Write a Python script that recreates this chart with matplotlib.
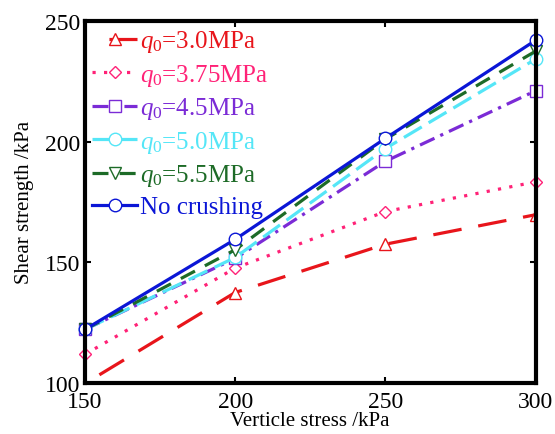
import numpy as np
import matplotlib
matplotlib.use('Agg')
import matplotlib.pyplot as plt

plt.rcParams['font.family'] = 'Liberation Serif'
plt.rcParams['mathtext.fontset'] = 'custom'
plt.rcParams['mathtext.rm'] = 'Liberation Serif'
plt.rcParams['mathtext.it'] = 'Liberation Serif:italic'

# vertical stress levels (kPa)
stress = [150, 200, 250, 300]

# shear strength (kPa) for each crushing strength q0
s_30 = [99.8, 137.5, 157.5, 169.7]
s_375 = [111.9, 147.6, 171.0, 183.3]
s_45 = [122.2, 151.6, 191.8, 221.0]
s_50 = [122.2, 152.0, 197.1, 234.1]
s_55 = [122.2, 155.2, 201.0, 237.4]
s_none = [122.2, 159.5, 201.3, 241.9]

labels = [r'$q_{\mathit{0}}$=3.0MPa', r'$q_{\mathit{0}}$=3.75MPa',
          r'$q_{\mathit{0}}$=4.5MPa', r'$q_{\mathit{0}}$=5.0MPa',
          r'$q_{\mathit{0}}$=5.5MPa', 'No crushing']
colors = ['#e8151b', '#ff2277', '#7b2bd6', '#55e6f7', '#1d6b27', '#0b16d6']
markers = ['^', 'D', 's', 'o', 'v', 'o']
msizes = [9, 6.5, 8.5, 9, 9, 9]
styles = [(9, (9, 5.3)), (0, (1, 2.6)), (0, (5, 2, 1, 2)), (0, (6.5, 2.5)),
          (0, (5, 3.5)), '-']
series = [s_30, s_375, s_45, s_50, s_55, s_none]

fig = plt.figure(figsize=(5.55, 4.35), dpi=100)
ax = fig.add_axes([0.153, 0.117, 0.812, 0.833])

for i in range(len(series)):
    me = [1, 2, 3] if i == 0 else None
    ax.plot(stress, series[i], color=colors[i], linestyle=styles[i], lw=2.3,
            marker=markers[i], ms=msizes[i], mfc='white', mec=colors[i],
            mew=1.0, markevery=me, label=labels[i], clip_on=False if i else True)

ax.set_xlim(150, 300)
ax.set_ylim(100, 250)
ax.set_xticks([150, 200, 250, 300])
ax.set_yticks([100, 150, 200, 250])
ax.tick_params(direction='in', length=4, width=1.5, labelsize=17,
               top=True, right=True, pad=3)
ax.tick_params(axis='x', pad=6)
for sp in ax.spines.values():
    sp.set_linewidth(3)

ax.set_xlabel('Verticle stress /kPa', fontsize=15, labelpad=-1)
ax.set_ylabel('Shear strength /kPa', fontsize=15, labelpad=8)

leg = ax.legend(loc='upper left', frameon=False, fontsize=18, handlelength=1.8,
                handletextpad=0.1, labelspacing=0.3, borderaxespad=0.05,
                borderpad=0.25)
for t, c in zip(leg.get_texts(), colors):
    t.set_color(c)

plt.savefig('out.png', dpi=100)
